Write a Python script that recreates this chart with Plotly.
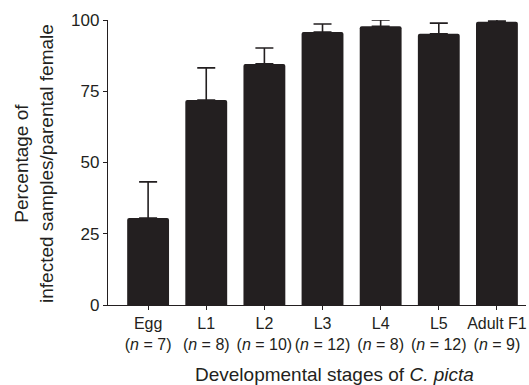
import plotly.graph_objects as go

stages = ["Egg", "L1", "L2", "L3", "L4", "L5", "Adult F1"]
n_values = [7, 8, 10, 12, 8, 12, 9]
percent = [30.5, 71.9, 84.6, 95.8, 97.8, 95.2, 99.4]
sem = [12.7, 11.3, 5.6, 2.8, 2.2, 3.7, 0.6]

ticklabels = [f"{s}<br>(<i>n</i> = {n})" for s, n in zip(stages, n_values)]

L, R, T, B = 108, 3, 20, 80
W, H = 529, 385
pw, ph = W - L - R, H - T - B

fig = go.Figure(go.Bar(
    x=stages, y=percent,
    marker=dict(color="#231f20", line=dict(width=0), cornerradius=2),
    width=0.72,
    error_y=dict(type="data", array=sem, symmetric=False, arrayminus=[0]*len(sem),
                 color="#231f20", thickness=1.6, width=9),
    hoverinfo="skip",
))

fig.update_layout(
    width=W, height=H,
    margin=dict(l=L, r=R, t=T, b=B, autoexpand=False),
    paper_bgcolor="white", plot_bgcolor="white",
    font=dict(family="Liberation Sans, Arial, sans-serif", size=16, color="#231f20"),
    showlegend=False,
    xaxis=dict(
        type="category", range=[-0.69, 6.5], automargin=False,
        tickvals=stages, ticktext=ticklabels, tickangle=0,
        showline=True, linecolor="#231f20", linewidth=1.3,
        ticks="outside", ticklen=4, tickcolor="#231f20", tickwidth=1.3,
        tickfont=dict(size=16),
    ),
    yaxis=dict(
        range=[0, 100], tickvals=[0, 25, 50, 75, 100], automargin=False,
        showline=True, linecolor="#231f20", linewidth=1.3,
        ticks="outside", ticklen=4, tickcolor="#231f20", tickwidth=1.3,
        showgrid=False, zeroline=False,
        tickfont=dict(size=17),
    ),
    annotations=[
        dict(text="Percentage of<br>infected samples/parental female",
             xref="paper", yref="paper", x=(34 - L) / pw, y=(H - B - 164) / ph,
             xanchor="center", yanchor="middle", textangle=-90, showarrow=False,
             font=dict(size=19)),
        dict(text="Developmental stages of <i>C. picta</i>",
             xref="paper", yref="paper", x=(334 - L) / pw, y=(H - B - 375) / ph,
             xanchor="center", yanchor="middle", showarrow=False,
             font=dict(size=19)),
    ],
)

fig.write_html("out.html", config={"displayModeBar": False},
               post_script="document.body.style.margin='0';document.body.style.overflow='hidden';")
